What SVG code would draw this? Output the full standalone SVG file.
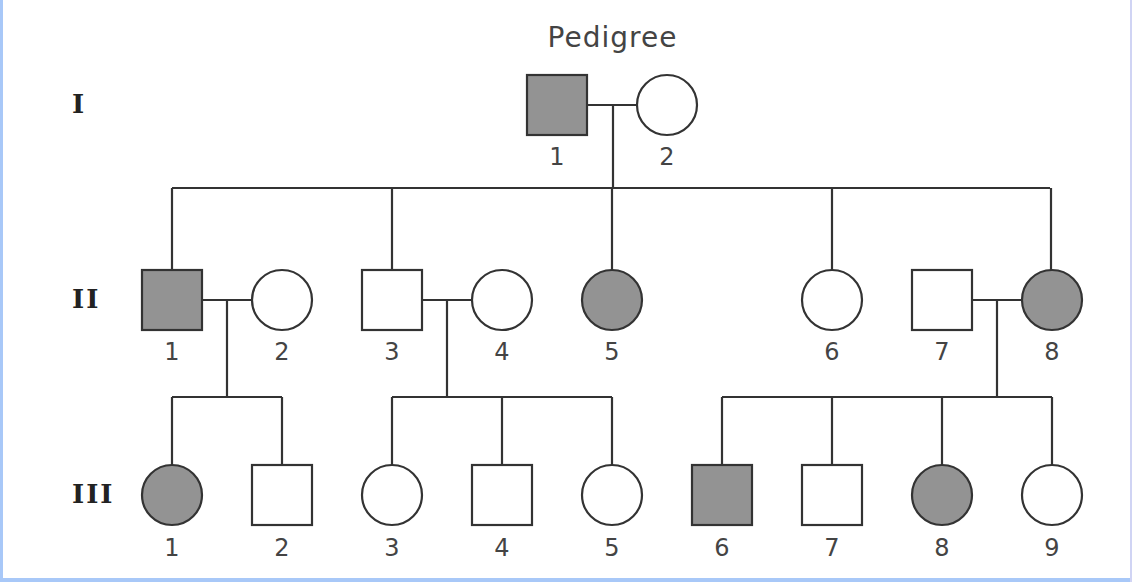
<svg xmlns="http://www.w3.org/2000/svg" width="1132" height="582" viewBox="0 0 1132 582">
<style>
.m{fill:#fff;stroke:#333;stroke-width:2.2}
.a{fill:#939393}
.l{fill:none;stroke:#333;stroke-width:2.2}
.n{font-family:"DejaVu Sans",Verdana,sans-serif;font-size:24px;fill:#444;text-anchor:middle}
.g{font-family:"DejaVu Serif","Liberation Serif",serif;font-weight:bold;font-size:26px;fill:#222;dominant-baseline:central}
</style>
<rect width="1132" height="582" fill="#fff"/>
<rect x="0" y="0" width="3" height="582" fill="#a8c8f8"/>
<rect x="0" y="578" width="1132" height="4" fill="#a8c8f8"/>
<rect x="1130" y="0" width="2" height="582" fill="#d0d4f4"/>
<text x="612" y="47" font-family="DejaVu Sans,Verdana,sans-serif" font-size="28" fill="#444" text-anchor="middle" textLength="129">Pedigree</text>
<text class="g" x="72" y="104">I</text>
<text class="g" x="72" y="299" letter-spacing="2">II</text>
<text class="g" x="72" y="494" letter-spacing="2">III</text>
<g id="connectors">
<path class="l" d="M587 105H637M613 105V188M172 188H1050M172 188V270M392 188V270M612 188V270M832 188V270M1051 188V270"/>
<path class="l" d="M202 300H252M227 300V397M172 397H282M172 397V465M282 397V465"/>
<path class="l" d="M422 300H472M447 300V397M392 397H612M392 397V465M502 397V465M612 397V465"/>
<path class="l" d="M972 300H1022M997 300V397M722 397H1052M722 397V465M832 397V465M942 397V465M1052 397V465"/>
</g>
<g id="I-1"><rect class="m a" x="527" y="75" width="60" height="60"/><text class="n" x="557" y="165">1</text></g>
<g id="I-2"><circle class="m" cx="667" cy="105" r="30"/><text class="n" x="667" y="165">2</text></g>
<g id="II-1"><rect class="m a" x="142" y="270" width="60" height="60"/><text class="n" x="172" y="360">1</text></g>
<g id="II-2"><circle class="m" cx="282" cy="300" r="30"/><text class="n" x="282" y="360">2</text></g>
<g id="II-3"><rect class="m" x="362" y="270" width="60" height="60"/><text class="n" x="392" y="360">3</text></g>
<g id="II-4"><circle class="m" cx="502" cy="300" r="30"/><text class="n" x="502" y="360">4</text></g>
<g id="II-5"><circle class="m a" cx="612" cy="300" r="30"/><text class="n" x="612" y="360">5</text></g>
<g id="II-6"><circle class="m" cx="832" cy="300" r="30"/><text class="n" x="832" y="360">6</text></g>
<g id="II-7"><rect class="m" x="912" y="270" width="60" height="60"/><text class="n" x="942" y="360">7</text></g>
<g id="II-8"><circle class="m a" cx="1052" cy="300" r="30"/><text class="n" x="1052" y="360">8</text></g>
<g id="III-1"><circle class="m a" cx="172" cy="495" r="30"/><text class="n" x="172" y="556">1</text></g>
<g id="III-2"><rect class="m" x="252" y="465" width="60" height="60"/><text class="n" x="282" y="556">2</text></g>
<g id="III-3"><circle class="m" cx="392" cy="495" r="30"/><text class="n" x="392" y="556">3</text></g>
<g id="III-4"><rect class="m" x="472" y="465" width="60" height="60"/><text class="n" x="502" y="556">4</text></g>
<g id="III-5"><circle class="m" cx="612" cy="495" r="30"/><text class="n" x="612" y="556">5</text></g>
<g id="III-6"><rect class="m a" x="692" y="465" width="60" height="60"/><text class="n" x="722" y="556">6</text></g>
<g id="III-7"><rect class="m" x="802" y="465" width="60" height="60"/><text class="n" x="832" y="556">7</text></g>
<g id="III-8"><circle class="m a" cx="942" cy="495" r="30"/><text class="n" x="942" y="556">8</text></g>
<g id="III-9"><circle class="m" cx="1052" cy="495" r="30"/><text class="n" x="1052" y="556">9</text></g>
</svg>
